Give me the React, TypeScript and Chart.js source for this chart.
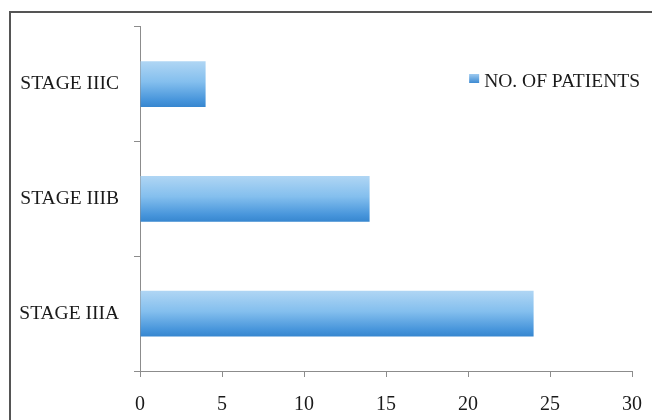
import React, { useEffect, useRef } from 'react';
import { Chart, registerables } from 'chart.js';

Chart.register(...registerables);

const categories = ['STAGE IIIA', 'STAGE IIIB', 'STAGE IIIC'];
const patients = [24, 14, 4];
const seriesLabel = 'NO. OF PATIENTS';
const xTickValues = [0, 5, 10, 15, 20, 25, 30];

const FONT = "'Liberation Serif', 'Times New Roman', serif";
const BAR_PCT = 0.4;

// Legend drawn inside the plot, right-aligned, from the dataset label
const insideLegend = {
  id: 'insideLegend',
  afterDraw(chart: any) {
    const ctx = chart.ctx;
    const ds = chart.data.datasets[0];
    const text = ds.label;
    ctx.save();
    ctx.font = `19.5px ${FONT}`;
    const tw = ctx.measureText(text).width;
    const textRight = 640;
    const tx = textRight - tw;
    const boxW = 10;
    const boxH = 9;
    const bx = tx - 5 - boxW;
    const by = 74;
    const g = ctx.createLinearGradient(0, by, 0, by + boxH);
    g.addColorStop(0, '#9dcaf0');
    g.addColorStop(1, '#3d8ad2');
    ctx.fillStyle = g;
    ctx.fillRect(bx, by, boxW, boxH);
    ctx.fillStyle = '#1a1a1a';
    ctx.textBaseline = 'alphabetic';
    ctx.textAlign = 'left';
    ctx.fillText(text, tx, 87);
    ctx.restore();
  },
};

export default function App() {
  const ref = useRef<HTMLCanvasElement | null>(null);

  useEffect(() => {
    if (!ref.current) return;
    const chart = new Chart(ref.current, {
      type: 'bar',
      data: {
        labels: categories,
        datasets: [
          {
            label: seriesLabel,
            data: patients,
            categoryPercentage: 1,
            barPercentage: BAR_PCT,
            borderWidth: 0,
            backgroundColor: (ctx: any) => {
              const c = ctx.chart;
              const area = c.chartArea;
              if (!area || ctx.type !== 'data') return '#5fa4e2';
              const y = c.scales.y.getPixelForValue(ctx.dataIndex);
              const half = ((area.bottom - area.top) / categories.length) * BAR_PCT / 2;
              const g = c.ctx.createLinearGradient(0, y - half, 0, y + half);
              g.addColorStop(0, '#b0d6f4');
              g.addColorStop(0.45, '#84bfee');
              g.addColorStop(0.85, '#4795db');
              g.addColorStop(1, '#3686cf');
              return g;
            },
          },
        ],
      },
      options: {
        indexAxis: 'y',
        animation: false,
        responsive: false,
        maintainAspectRatio: false,
        layout: { padding: { top: 25, right: 0, bottom: 0, left: 0 } },
        plugins: {
          legend: { display: false },
          tooltip: { enabled: false },
        },
        scales: {
          x: {
            type: 'linear',
            min: 0,
            max: 30,
            afterBuildTicks: (scale: any) => {
              scale.ticks = xTickValues.map((v) => ({ value: v }));
            },
            afterFit: (scale: any) => {
              scale.height = 49;
              scale.paddingRight = 20;
              scale.paddingLeft = 0;
            },
            grid: {
              display: true,
              drawOnChartArea: false,
              drawTicks: true,
              tickLength: 6,
              color: '#8c8c8c',
            },
            border: { display: true, color: '#8c8c8c', width: 1 },
            ticks: {
              color: '#1a1a1a',
              font: { family: FONT, size: 20 },
              padding: 16,
              maxRotation: 0,
            },
          },
          y: {
            type: 'category',
            reverse: true,
            afterFit: (scale: any) => {
              scale.width = 140;
            },
            grid: {
              display: true,
              offset: true,
              drawOnChartArea: false,
              drawTicks: true,
              tickLength: 6,
              color: '#8c8c8c',
            },
            border: { display: true, color: '#8c8c8c', width: 1 },
            ticks: {
              color: '#1a1a1a',
              font: { family: FONT, size: 19.5 },
              padding: 15,
            },
          },
        },
      },
      plugins: [insideLegend],
    } as any);
    return () => chart.destroy();
  }, []);

  return (
    <div
      style={{
        position: 'fixed',
        left: 0,
        top: 0,
        width: 652,
        height: 420,
        overflow: 'hidden',
        background: '#ffffff',
      }}
    >
      <div
        style={{
          position: 'absolute',
          left: 9,
          top: 11,
          width: 800,
          height: 600,
          borderTop: '2px solid #555555',
          borderLeft: '2px solid #555555',
        }}
      />
      <canvas
        ref={ref}
        width={652}
        height={420}
        style={{ position: 'absolute', left: 0, top: 0, width: 652, height: 420 }}
      />
    </div>
  );
}
